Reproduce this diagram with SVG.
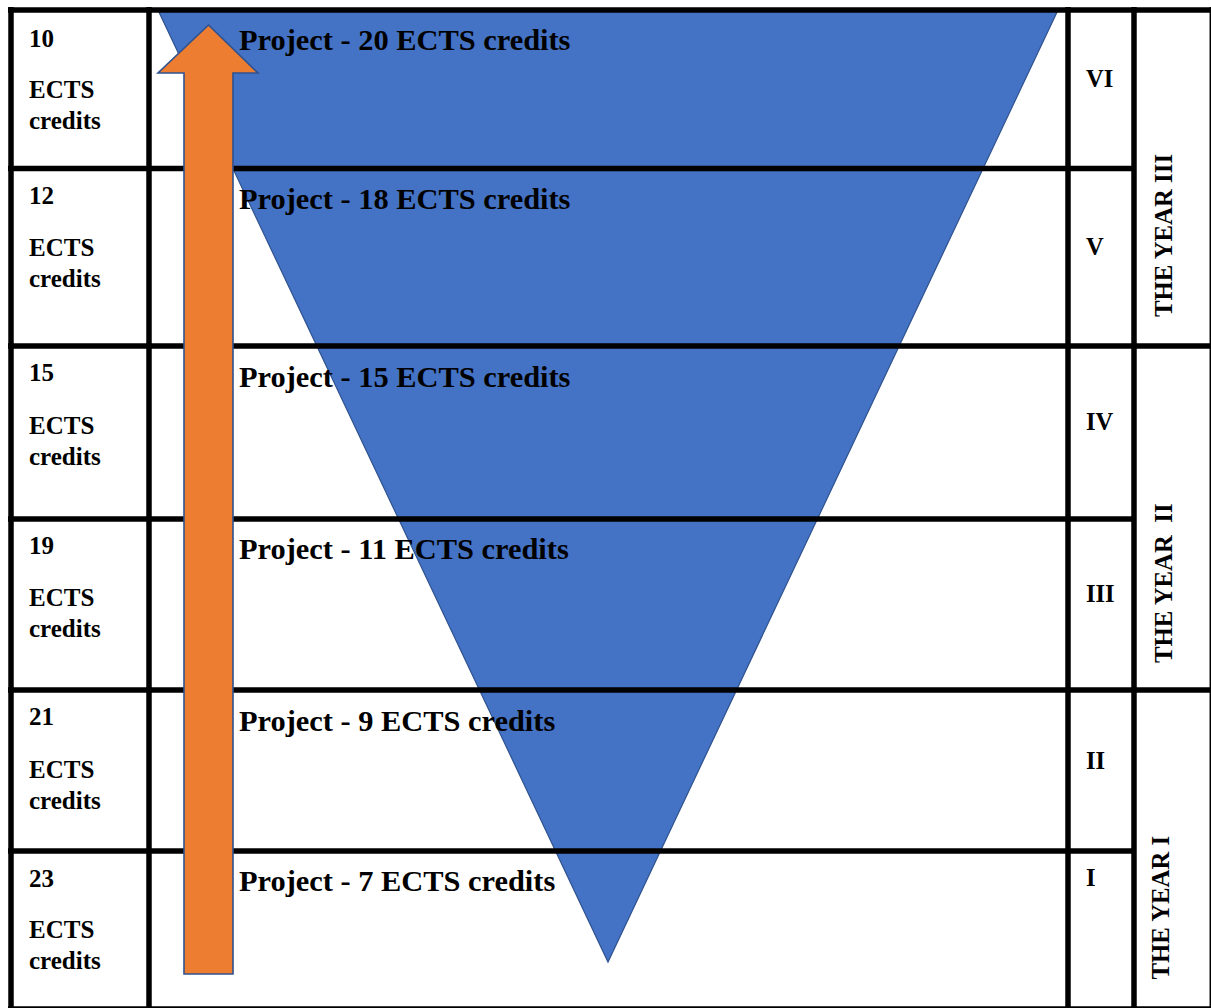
<svg xmlns="http://www.w3.org/2000/svg" width="1211" height="1008" viewBox="0 0 1211 1008">
<style>
.t{font-family:"Liberation Serif","Times New Roman",serif;font-weight:bold;fill:#000}
.proj{font-size:30.4px}
.sm{font-size:25px}
.rn{font-size:24.5px}
.ln{stroke:#000;stroke-width:5.5;fill:none}
.yr{font-size:24.8px;white-space:pre}
</style>
<rect x="0" y="0" width="1211" height="1008" fill="#fff"/>
<g id="funnel">
<polygon points="158,10 1058,10 608,962" fill="#4472C4" stroke="#2F528F" stroke-width="1.2"/>
</g>
<g id="grid">
<line class="ln" x1="8" y1="10" x2="1211" y2="10"/>
<line class="ln" x1="8" y1="1009" x2="1211" y2="1009"/>
<line class="ln" x1="8" y1="168.5" x2="1134" y2="168.5"/>
<line class="ln" x1="8" y1="346" x2="1211" y2="346"/>
<line class="ln" x1="8" y1="519" x2="1134" y2="519"/>
<line class="ln" x1="8" y1="690" x2="1211" y2="690"/>
<line class="ln" x1="8" y1="851" x2="1134" y2="851"/>
<line class="ln" x1="11" y1="7" x2="11" y2="1008"/>
<line class="ln" x1="149" y1="7" x2="149" y2="1008"/>
<line class="ln" x1="1068" y1="7" x2="1068" y2="1008"/>
<line class="ln" x1="1134" y1="7" x2="1134" y2="1008"/>
<line x1="1210.3" y1="7" x2="1210.3" y2="1008" stroke="#000" stroke-width="1.5"/>
</g>
<g id="connectors">
<polygon id="progress-arrow" points="208.5,25 258,73 233,73 233,974 184,974 184,73 158,73" fill="#ED7D31" stroke="#2F528F" stroke-width="1.6" stroke-linejoin="miter"/>
</g>
<g id="row-vi">
<text class="t sm" x="29" y="46.5">10</text>
<text class="t sm" x="29" y="97.5">ECTS</text>
<text class="t sm" x="29" y="128.5">credits</text>
<text class="t proj" x="239" y="50">Project - 20 ECTS credits</text>
<text class="t rn" x="1086" y="86.5">VI</text>
</g>
<g id="row-v">
<text class="t sm" x="29" y="203.5">12</text>
<text class="t sm" x="29" y="256">ECTS</text>
<text class="t sm" x="29" y="287">credits</text>
<text class="t proj" x="239" y="209">Project - 18 ECTS credits</text>
<text class="t rn" x="1086" y="255">V</text>
</g>
<g id="row-iv">
<text class="t sm" x="29" y="381">15</text>
<text class="t sm" x="29" y="433.5">ECTS</text>
<text class="t sm" x="29" y="464.5">credits</text>
<text class="t proj" x="239" y="386.5">Project - 15 ECTS credits</text>
<text class="t rn" x="1086" y="429.5">IV</text>
</g>
<g id="row-iii">
<text class="t sm" x="29" y="553.5">19</text>
<text class="t sm" x="29" y="606">ECTS</text>
<text class="t sm" x="29" y="637">credits</text>
<text class="t proj" x="239" y="559">Project - 11 ECTS credits</text>
<text class="t rn" x="1086" y="601.5">III</text>
</g>
<g id="row-ii">
<text class="t sm" x="29" y="725">21</text>
<text class="t sm" x="29" y="777.5">ECTS</text>
<text class="t sm" x="29" y="808.5">credits</text>
<text class="t proj" x="239" y="730.5">Project - 9 ECTS credits</text>
<text class="t rn" x="1086" y="769">II</text>
</g>
<g id="row-i">
<text class="t sm" x="29" y="886.5">23</text>
<text class="t sm" x="29" y="937.5">ECTS</text>
<text class="t sm" x="29" y="968.5">credits</text>
<text class="t proj" x="239" y="891">Project - 7 ECTS credits</text>
<text class="t rn" x="1086" y="886">I</text>
</g>
<g id="year-iii">
<text class="t yr" transform="translate(1171.5,317) rotate(-90)">THE YEAR III</text>
</g>
<g id="year-ii">
<text class="t yr" transform="translate(1172,663) rotate(-90)">THE YEAR  II</text>
</g>
<g id="year-i">
<text class="t yr" transform="translate(1168.5,979.5) rotate(-90)">THE YEAR I</text>
</g>
</svg>
